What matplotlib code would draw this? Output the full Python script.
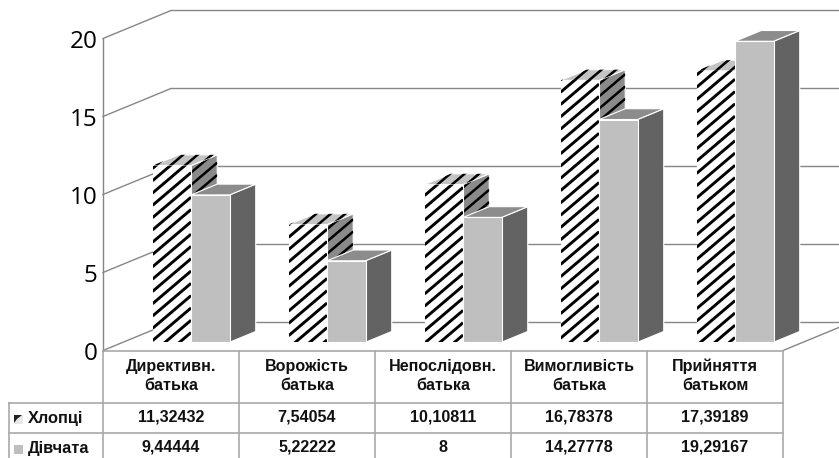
import matplotlib
matplotlib.use("Agg")
import matplotlib.pyplot as plt
from matplotlib.patches import Polygon
from matplotlib.collections import LineCollection
from matplotlib.transforms import IdentityTransform
import numpy as np

categories = ["Директивн.\nбатька", "Ворожість\nбатька", "Непослідовн.\nбатька",
              "Вимогливість\nбатька", "Прийняття\nбатьком"]
series_names = ["Хлопці", "Дівчата"]
boys = [11.32432, 7.54054, 10.10811, 16.78378, 17.39189]
girls = [9.44444, 5.22222, 8, 14.27778, 19.29167]
y_ticks = [0, 5, 10, 15, 20]

W, H = 839, 458
GRID = "#868686"
TABLE = "#a9a9a9"
fig = plt.figure(figsize=(W / 100, H / 100), dpi=100, facecolor="white")
ax = fig.add_axes([103 / W, (H - 350.5) / H, 680 / W, 312 / H])
ax.set_xlim(0, 5)
ax.set_ylim(0, 20)
for s in ["top", "right", "bottom"]:
    ax.spines[s].set_visible(False)
ax.spines["left"].set_color(GRID)
ax.spines["left"].set_linewidth(1)
ax.spines["left"].set_zorder(0.5)
ax.patch.set_alpha(0)
ax.set_xticks([])
ax.set_yticks(y_ticks)
ax.tick_params(axis="y", length=0, pad=4)
for t in ax.get_yticklabels():
    t.set_fontfamily("Open Sans")
    t.set_fontsize(17.5)

# oblique projection: full depth of the chart box, in data units
DX, DY = 68 / 136, 28 / 15.6
D0, D1 = 0.295, 0.68   # bar depth span as fraction of box depth
BAR_W = 38.5 / 136


def proj(x, y, d):
    return (x + DX * d, y + DY * d)


# back wall, side wall and floor edges
for v in y_ticks:
    ax.plot(*zip(proj(0, v, 0), proj(0, v, 1), proj(5, v, 1)),
            color=GRID, lw=1, clip_on=False, zorder=1)
ax.plot(*zip(proj(5, 0, 0), proj(5, 0, 1)), color=GRID, lw=1, clip_on=False, zorder=1)


def stripes(patch, zorder, lw, color="black"):
    box = patch.get_window_extent()
    period, slope = 12.3, 0.85
    c0 = box.y0 - slope * box.x1 - period
    c1 = box.y1 - slope * box.x0 + period
    segs = []
    for c in np.arange(np.floor(c0 / period) * period, c1, period):
        segs.append([(box.x0, slope * box.x0 + c), (box.x1, slope * box.x1 + c)])
    lc = LineCollection(segs, colors=color, linewidths=lw, transform=IdentityTransform(),
                        zorder=zorder)
    ax.add_collection(lc, autolim=False)
    lc.set_clip_path(patch)


def bar(x, v, front, top, side, z, striped=False):
    xr = x + BAR_W
    fr = [proj(x, 0, D0), proj(xr, 0, D0), proj(xr, v, D0), proj(x, v, D0)]
    sd = [proj(xr, 0, D0), proj(xr, 0, D1), proj(xr, v, D1), proj(xr, v, D0)]
    tp = [proj(x, v, D0), proj(xr, v, D0), proj(xr, v, D1), proj(x, v, D1)]
    for pts, col, dz in ((sd, side, 0), (tp, top, 0.1), (fr, front, 0.2)):
        p = Polygon(pts, closed=True, facecolor=col, edgecolor="white", lw=0.8,
                    zorder=z + dz, clip_on=False)
        ax.add_patch(p)
        if striped:
            stripes(p, z + dz + 0.05, 2.1 if col == front else 1.8)


z = 2
for i, (b, g) in enumerate(zip(boys, girls)):
    c = i + 0.5
    bar(c - BAR_W, b, "white", "#c4c4c4", "#8a8a8a", z, striped=True)
    bar(c, g, "#bfbfbf", "#8c8c8c", "#636363", z + 1)
    z += 2

# data table, laid out in figure pixels
tb = fig.add_axes([0, 0, 1, 1])
tb.set_xlim(0, W)
tb.set_ylim(H, 0)
tb.axis("off")
tb.patch.set_alpha(0)
cols = np.linspace(103, 783, len(categories) + 1)
tb.plot([103, 783], [350.5, 350.5], color=TABLE, lw=1.2)
for y in (402.5, 432.5):
    tb.plot([9, 783], [y, y], color=TABLE, lw=1.2)
for x in cols:
    tb.plot([x, x], [350.5, H], color=TABLE, lw=1.2)
tb.plot([9, 9], [402.5, H], color=TABLE, lw=1.2)

FONT = dict(family="Liberation Sans", fontweight="bold", color="#111111")


def fmt(v):
    return f"{v:.7g}".replace(".", ",")


for i, cat in enumerate(categories):
    cx = (cols[i] + cols[i + 1]) / 2
    tb.text(cx, 376, cat, ha="center", va="center", fontsize=11.6, linespacing=1.32, **FONT)
    tb.text(cx, 417, fmt(boys[i]), ha="center", va="center", fontsize=11.6, **FONT)
    tb.text(cx, 447, fmt(girls[i]), ha="center", va="center", fontsize=11.6, **FONT)
tb.text(28, 419, series_names[0], ha="left", va="center", fontsize=11.8, **FONT)
tb.text(28, 449, series_names[1], ha="left", va="center", fontsize=11.8, **FONT)

# legend keys in the table
tb.add_patch(Polygon([(14, 415), (23, 415), (23, 424), (14, 424)], facecolor="#e8e8e8", edgecolor="none"))
tb.add_patch(Polygon([(14, 415), (22, 415), (17, 419), (14, 423)], facecolor="#222222", edgecolor="none"))
tb.add_patch(Polygon([(14, 445), (23, 445), (23, 454), (14, 454)], facecolor="#bfbfbf", edgecolor="none"))

fig.savefig("out.png", dpi=100)
